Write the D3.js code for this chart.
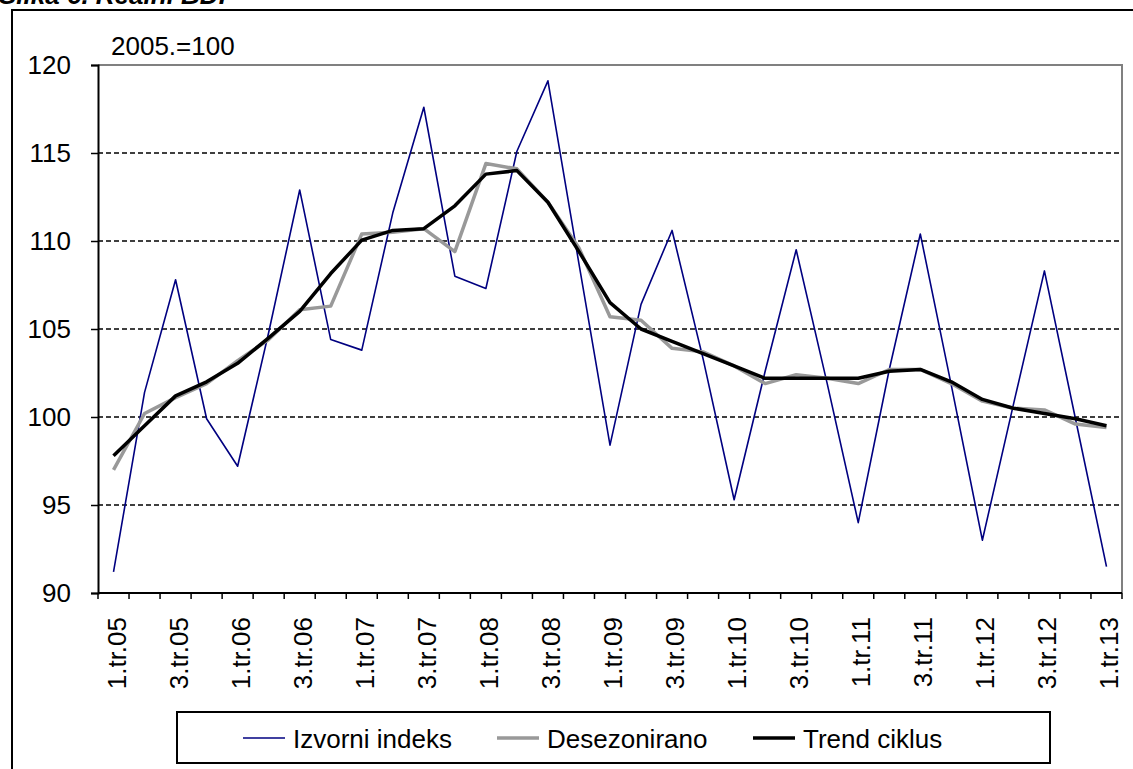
<!DOCTYPE html>
<html>
<head>
<meta charset="utf-8">
<script src="https://cdn.jsdelivr.net/npm/d3@7"></script>
<style>
  body { margin: 0; background: #fff; }
  svg { display: block; font-family: "Liberation Sans", Arial, sans-serif; }
</style>
</head>
<body>
<svg id="chart" width="1133" height="769"></svg>
<script>
// quarters, 1.tr.05 .. 1.tr.13
const quarters = [
  "1.tr.05", "2.tr.05", "3.tr.05", "4.tr.05",
  "1.tr.06", "2.tr.06", "3.tr.06", "4.tr.06",
  "1.tr.07", "2.tr.07", "3.tr.07", "4.tr.07",
  "1.tr.08", "2.tr.08", "3.tr.08", "4.tr.08",
  "1.tr.09", "2.tr.09", "3.tr.09", "4.tr.09",
  "1.tr.10", "2.tr.10", "3.tr.10", "4.tr.10",
  "1.tr.11", "2.tr.11", "3.tr.11", "4.tr.11",
  "1.tr.12", "2.tr.12", "3.tr.12", "4.tr.12",
  "1.tr.13"
];

const izvorni = [
  91.2, 101.4, 107.8, 99.9, 97.2, 104.8, 112.9, 104.4,
  103.8, 111.6, 117.6, 108.0, 107.3, 115.1, 119.1, 108.7,
  98.4, 106.4, 110.6, 103.3, 95.3, 102.6, 109.5, 101.9,
  94.0, 102.7, 110.4, 101.8, 93.0, 100.7, 108.3, 99.9,
  91.5
];

const desezonirano = [
  97.0, 100.2, 101.1, 101.9, 103.2, 104.4, 106.1, 106.3,
  110.4, 110.5, 110.7, 109.4, 114.4, 114.1, 112.2, 109.6,
  105.7, 105.5, 103.9, 103.7, 102.9, 101.9, 102.4, 102.2,
  101.9, 102.7, 102.7, 101.9, 100.9, 100.5, 100.4, 99.6,
  99.4
];

const trend = [
  97.8, 99.5, 101.2, 102.0, 103.05, 104.5, 106.0, 108.15,
  110.05, 110.6, 110.7, 112.0, 113.8, 114.0, 112.2, 109.4,
  106.5, 105.0, 104.3, 103.6, 102.9, 102.2, 102.2, 102.2,
  102.2, 102.6, 102.7, 102.0, 101.0, 100.5, 100.2, 99.9,
  99.5
];

const yTicks = [90, 95, 100, 105, 110, 115, 120];
const gridTicks = [95, 100, 105, 110, 115];

const series = [
  { name: "Izvorni indeks", values: izvorni, color: "#000080", width: 1.6 },
  { name: "Desezonirano", values: desezonirano, color: "#999999", width: 3.5 },
  { name: "Trend ciklus", values: trend, color: "#000000", width: 3.5 }
];

const svg = d3.select("#chart");

// plot area edges
const plotLeft = 98, plotRight = 1122, plotTop = 65, plotBottom = 593;

const x = d3.scaleBand().domain(quarters).range([plotLeft, plotRight]);
const y = d3.scaleLinear().domain([90, 120]).range([plotBottom, plotTop]);

// caption, cut off at the top of the picture (as in the source)
svg.append("text")
  .attr("x", -1)
  .attr("y", 4)
  .attr("font-size", 26)
  .attr("font-weight", "bold")
  .attr("font-style", "italic")
  .text("Slika 6. Realni BDP");

// outer frame (only left and top visible)
svg.append("path")
  .attr("d", `M12,${769 + 5}V10H${1133 + 5}`)
  .attr("fill", "none")
  .attr("stroke", "#000")
  .attr("stroke-width", 2);

// grid
svg.append("g")
  .selectAll("line")
  .data(gridTicks)
  .join("line")
  .attr("x1", plotLeft)
  .attr("x2", plotRight)
  .attr("y1", d => y(d))
  .attr("y2", d => y(d))
  .attr("stroke", "#000")
  .attr("stroke-width", 1.4)
  .attr("stroke-dasharray", "5,3");

// plot border, top and right in grey
svg.append("path")
  .attr("d", `M${plotLeft},${y(120)}H${plotRight}V${plotBottom}`)
  .attr("fill", "none")
  .attr("stroke", "#808080")
  .attr("stroke-width", 2);

// y axis
const yAxis = svg.append("g")
  .attr("transform", `translate(${plotLeft},0)`)
  .call(d3.axisLeft(y).tickValues(yTicks).tickSize(7).tickPadding(20));
yAxis.select(".domain").attr("stroke-width", 2);
yAxis.selectAll(".tick line").attr("stroke-width", 1.5);
yAxis.selectAll("text")
  .attr("font-size", 26)
  .attr("font-family", "Liberation Sans, Arial, sans-serif")
  .attr("fill", "#000");

// x axis: ticks between categories, labels on every second quarter
svg.append("line")
  .attr("x1", plotLeft).attr("x2", plotRight)
  .attr("y1", plotBottom).attr("y2", plotBottom)
  .attr("stroke", "#000")
  .attr("stroke-width", 2);

const boundaries = quarters.map(q => x(q)).concat([plotRight]);
svg.append("g")
  .selectAll("line")
  .data(boundaries)
  .join("line")
  .attr("x1", d => d).attr("x2", d => d)
  .attr("y1", plotBottom).attr("y2", plotBottom + 6)
  .attr("stroke", "#000")
  .attr("stroke-width", 1.5);

svg.append("g")
  .selectAll("text")
  .data(quarters.filter((q, i) => i % 2 == 0))
  .join("text")
  .attr("transform", d => `translate(${x(d) + x.bandwidth() / 2 + 12},617) rotate(-90)`)
  .attr("text-anchor", "end")
  .attr("font-size", 26)
  .text(d => d);

// base label
svg.append("text")
  .attr("x", 111)
  .attr("y", 55)
  .attr("font-size", 26)
  .text("2005.=100");

// lines
const line = d3.line()
  .x((d, i) => x(quarters[i]) + x.bandwidth() / 2)
  .y(d => y(d));

svg.append("g")
  .selectAll("path")
  .data(series)
  .join("path")
  .attr("d", d => line(d.values))
  .attr("fill", "none")
  .attr("stroke", d => d.color)
  .attr("stroke-width", d => d.width)
  .attr("stroke-linejoin", "round");

// legend
const legend = svg.append("g");
legend.append("rect")
  .attr("x", 177)
  .attr("y", 712)
  .attr("width", 873)
  .attr("height", 51)
  .attr("fill", "#fff")
  .attr("stroke", "#000")
  .attr("stroke-width", 2);

const legendX = [243, 497, 753];
const items = legend.selectAll("g.item")
  .data(series)
  .join("g")
  .attr("class", "item")
  .attr("transform", (d, i) => `translate(${legendX[i]},738)`);
items.append("line")
  .attr("x1", 0).attr("x2", 42)
  .attr("stroke", d => d.color)
  .attr("stroke-width", d => d.width);
items.append("text")
  .attr("x", 50)
  .attr("y", 10)
  .attr("font-size", 26)
  .text(d => d.name);
</script>
</body>
</html>
